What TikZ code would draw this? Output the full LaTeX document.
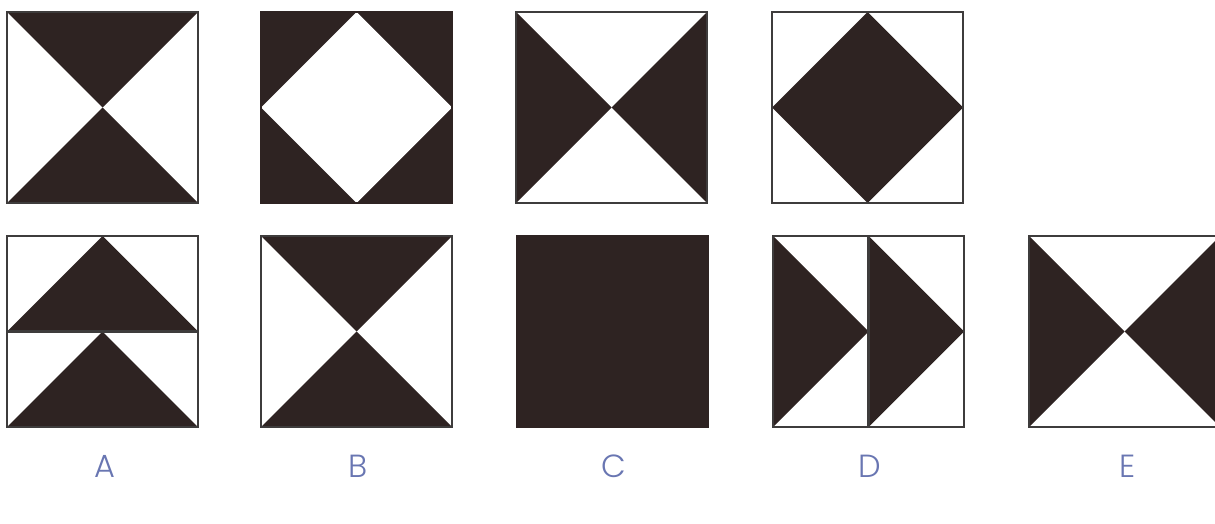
\documentclass[tikz,border=0pt]{standalone}
\usepackage{fontspec}
\setsansfont{Poppins}[UprightFont=* Light]
\usetikzlibrary{positioning}
\definecolor{InkBrown}{RGB}{46, 35, 34}
\definecolor{FrameGray}{RGB}{62, 60, 60}
\definecolor{LabelBlue}{RGB}{105, 118, 178}

\begin{document}
\begin{tikzpicture}[
                    x=1pt, y=-1pt,
                    frame/.style={draw=FrameGray, line width=2.2pt},
                    ink/.style={fill=InkBrown},
                    tag/.style={text=LabelBlue, font=\sffamily\fontsize{32}{32}\selectfont}
                ]
                    \useasboundingbox[fill=white] (0,0) rectangle (1215,524);

                    % top row
                    \begin{scope}[shift={(7,12)}]
                        \fill[ink] (0,0) -- (191,0) -- (95.5,95.5) -- cycle;
                        \fill[ink] (0,191) -- (191,191) -- (95.5,95.5) -- cycle;
                        \draw[frame] (0,0) rectangle (191,191);
                    \end{scope}
                    \begin{scope}[shift={(261,12)}]
                        \fill[ink] (0,0) rectangle (191,191);
                        \fill[white] (95.5,0) -- (191,95.5) -- (95.5,191) -- (0,95.5) -- cycle;
                        \draw[frame, draw=InkBrown] (0,0) rectangle (191,191);
                    \end{scope}
                    \begin{scope}[shift={(516,12)}]
                        \fill[ink] (0,0) -- (0,191) -- (95.5,95.5) -- cycle;
                        \fill[ink] (191,0) -- (191,191) -- (95.5,95.5) -- cycle;
                        \draw[frame] (0,0) rectangle (191,191);
                    \end{scope}
                    \begin{scope}[shift={(772,12)}]
                        \fill[ink] (95.5,0) -- (191,95.5) -- (95.5,191) -- (0,95.5) -- cycle;
                        \draw[frame] (0,0) rectangle (191,191);
                    \end{scope}

                    % bottom row
                    \begin{scope}[shift={(7,236)}]
                        \fill[ink] (0,95.5) -- (191,95.5) -- (95.5,0) -- cycle;
                        \fill[ink] (0,191) -- (191,191) -- (95.5,95.5) -- cycle;
                        \draw[frame] (0,95.5) -- (191,95.5);
                        \draw[frame] (0,0) rectangle (191,191);
                    \end{scope}
                    \begin{scope}[shift={(261,236)}]
                        \fill[ink] (0,0) -- (191,0) -- (95.5,95.5) -- cycle;
                        \fill[ink] (0,191) -- (191,191) -- (95.5,95.5) -- cycle;
                        \draw[frame] (0,0) rectangle (191,191);
                    \end{scope}
                    \begin{scope}[shift={(517,236)}]
                        \fill[ink] (0,0) rectangle (191,191);
                        \draw[frame, draw=InkBrown] (0,0) rectangle (191,191);
                    \end{scope}
                    \begin{scope}[shift={(773,236)}]
                        \fill[ink] (0,0) -- (0,191) -- (95.5,95.5) -- cycle;
                        \fill[ink] (95.5,0) -- (95.5,191) -- (191,95.5) -- cycle;
                        \draw[frame] (95.5,0) -- (95.5,191);
                        \draw[frame] (0,0) rectangle (191,191);
                    \end{scope}
                    \begin{scope}[shift={(1029,236)}]
                        \fill[ink] (0,0) -- (0,191) -- (95.5,95.5) -- cycle;
                        \fill[ink] (191,0) -- (191,191) -- (95.5,95.5) -- cycle;
                        \draw[frame] (0,0) rectangle (191,191);
                    \end{scope}

                    % answer letters
                    \node[tag] (labA) at (105,466) {A};
                    \node[tag] (labB) at (358,466) {B};
                    \node[tag] (labC) at (614,466) {C};
                    \node[tag] (labD) at (870,466) {D};
                    \node[tag] (labE) at (1128,466) {E};
                \end{tikzpicture}
\end{document}
